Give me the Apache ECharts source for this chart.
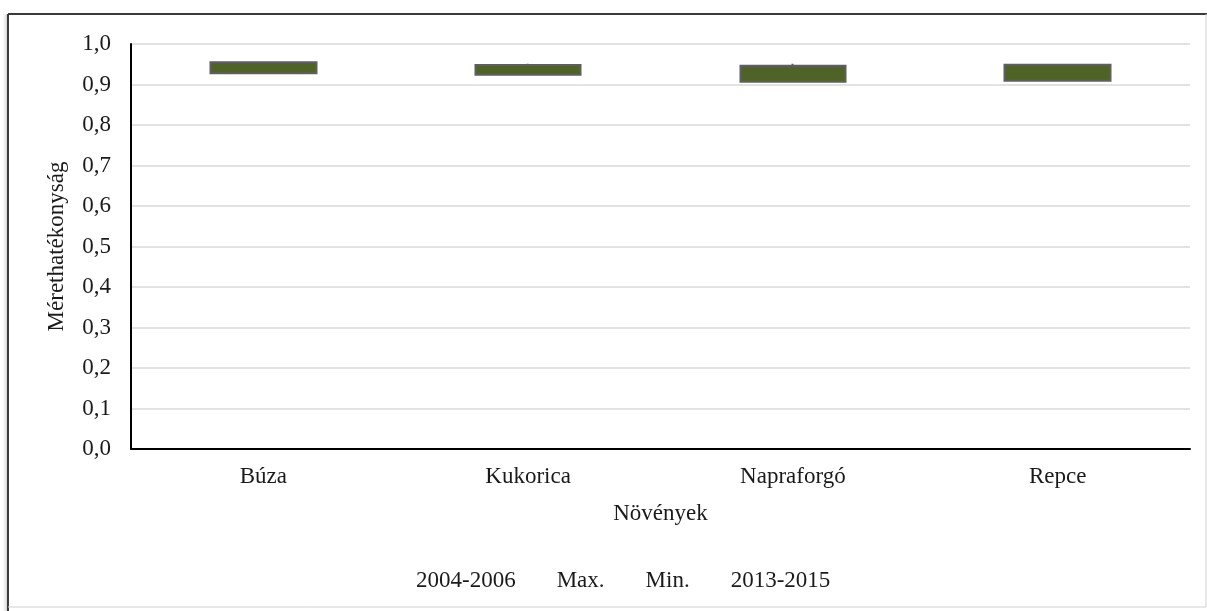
<!DOCTYPE html>
<html>
<head>
<meta charset="utf-8">
<script src="https://cdn.jsdelivr.net/npm/echarts@6/dist/echarts.min.js"></script>
<style>
  html, body { margin: 0; padding: 0; background: #fff; }
  #chart { width: 1207px; height: 611px; }
</style>
</head>
<body>
<div id="chart"></div>
<script>
// Crops on the x axis
const categories = ['Búza', 'Kukorica', 'Napraforgó', 'Repce'];
// Scale efficiency per period and its range
const period2004 = [0.928, 0.924, 0.907, 0.909];
const period2013 = [0.955, 0.948, 0.946, 0.949];
const maxValues = [0.956, 0.951, 0.951, 0.951];
const minValues = [0.928, 0.924, 0.907, 0.908];
// Y axis ticks
const yTicks = [0, 0.1, 0.2, 0.3, 0.4, 0.5, 0.6, 0.7, 0.8, 0.9, 1.0];
const legendNames = ['2004-2006', 'Max.', 'Min.', '2013-2015'];

const FONT = '"Liberation Serif", "Times New Roman", serif';
const FS = 23;
const BAR = '#4f6228';
const EDGE = '#5f5f5f';

const ohlc = categories.map((c, i) => [period2004[i], period2013[i], minValues[i], maxValues[i]]);

const chart = echarts.init(document.getElementById('chart'), null, { renderer: 'canvas' });

chart.setOption({
  backgroundColor: '#fff',
  animation: false,
  grid: { left: 131, right: 17, top: 44, bottom: 162 },
  xAxis: {
    type: 'category',
    data: categories,
    name: 'Növények',
    nameLocation: 'middle',
    nameGap: 53,
    nameTextStyle: { fontFamily: FONT, fontSize: FS, color: '#1a1a1a' },
    axisLine: { lineStyle: { color: '#000', width: 2 } },
    axisTick: { show: false },
    axisLabel: { fontFamily: FONT, fontSize: FS, color: '#1a1a1a', margin: 16 },
    splitLine: { show: false }
  },
  yAxis: {
    type: 'value',
    min: yTicks[0],
    max: yTicks[yTicks.length - 1],
    interval: 0.1,
    name: 'Mérethatékonyság',
    nameLocation: 'middle',
    nameGap: 63,
    nameTextStyle: { fontFamily: FONT, fontSize: FS, color: '#1a1a1a' },
    axisLine: { show: true, lineStyle: { color: '#000', width: 2 } },
    axisTick: { show: false },
    axisLabel: {
      fontFamily: FONT, fontSize: FS, color: '#1a1a1a', margin: 20,
      formatter: v => v.toFixed(1).replace('.', ',')
    },
    splitLine: { lineStyle: { color: '#d9d9d9', width: 1.5 } }
  },
  legend: {
    data: legendNames,
    left: 410,
    top: 569,
    itemWidth: 0,
    itemHeight: 0,
    itemGap: 36,
    padding: 0,
    icon: 'rect',
    selectedMode: false,
    textStyle: { fontFamily: FONT, fontSize: FS, color: '#1a1a1a' }
  },
  series: [
    {
      name: '2004-2006',
      type: 'candlestick',
      data: ohlc,
      barWidth: '40%',
      itemStyle: {
        color: BAR, color0: BAR,
        borderColor: EDGE, borderColor0: EDGE,
        borderWidth: 2
      }
    },
    { name: 'Max.', type: 'line', data: [], showSymbol: false },
    { name: 'Min.', type: 'line', data: [], showSymbol: false },
    { name: '2013-2015', type: 'line', data: [], showSymbol: false }
  ],
  graphic: [
    // frame of the chart area with a soft shadow on the left
    { type: 'rect', shape: { x: 1, y: 14, width: 7, height: 597 },
      style: { fill: new echarts.graphic.LinearGradient(0, 0, 1, 0, [
        { offset: 0, color: 'rgba(255,255,255,0)' },
        { offset: 1, color: 'rgba(150,150,150,0.6)' }]) }, silent: true },
    { type: 'line', shape: { x1: 8, y1: 14, x2: 1207, y2: 14 }, style: { stroke: '#3a3a3a', lineWidth: 2 }, silent: true },
    { type: 'line', shape: { x1: 8, y1: 14, x2: 8, y2: 611 }, style: { stroke: '#3a3a3a', lineWidth: 2 }, silent: true },
    { type: 'line', shape: { x1: 1206, y1: 14, x2: 1206, y2: 607 }, style: { stroke: '#d0d0d0', lineWidth: 1 }, silent: true },
    { type: 'line', shape: { x1: 8, y1: 607, x2: 1206, y2: 607 }, style: { stroke: '#d0d0d0', lineWidth: 1 }, silent: true }
  ]
});
</script>
</body>
</html>
